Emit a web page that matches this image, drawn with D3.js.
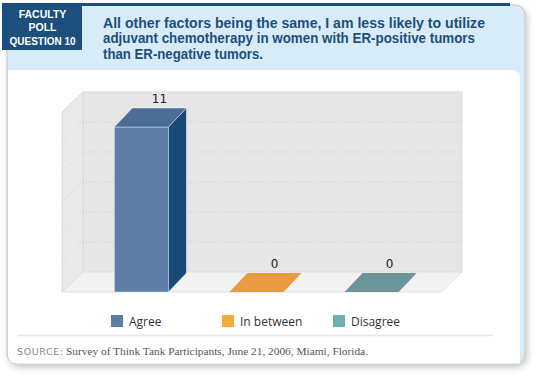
<!DOCTYPE html>
<html>
<head>
<meta charset="UTF-8">
<title>Faculty Poll Question 10</title>
<script src="https://d3js.org/d3.v7.min.js"></script>
<style>
  html, body { margin:0; padding:0; background:#fff; }
  svg { display:block; }
</style>
</head>
<body>
<div id="chart"></div>
<script>
// data
const categories = ['Agree', 'In between', 'Disagree'];
const counts = [11, 0, 0];
const yTicks = [0, 2, 4, 6, 8, 10, 12];
const titleLines = [
  'All other factors being the same, I am less likely to utilize',
  'adjuvant chemotherapy in women with ER-positive tumors',
  'than ER-negative tumors.'
];
const badgeLines = ['FACULTY', 'POLL', 'QUESTION 10'];
const sourceLabel = 'SOURCE:';
const sourceText = 'Survey of Think Tank Participants, June 21, 2006, Miami, Florida.';

// colours per series: front, top, side, legend
const palette = [
  {front:'#5f7ea6', top:'#4a6e96', side:'#174a78', legend:'#5f7ea6'},
  {front:'#e89b42', top:'#e89b42', side:'#c57d2c', legend:'#f9aa3c'},
  {front:'#6b9599', top:'#6b9599', side:'#4e777b', legend:'#6fafb4'}
];
const navy = '#1d4f7c';

const W = 540, H = 376;
const svg = d3.select('#chart').append('svg')
  .attr('width', W).attr('height', H);

// shadow
const defs = svg.append('defs');
const f = defs.append('filter').attr('id','shadow')
  .attr('x','-5%').attr('y','-5%').attr('width','112%').attr('height','115%');
f.append('feDropShadow').attr('dx',2).attr('dy',3).attr('stdDeviation',3)
  .attr('flood-color','#000').attr('flood-opacity',0.22);

// card
svg.append('rect')
  .attr('x',7).attr('y',5).attr('width',518).attr('height',359)
  .attr('rx',10)
  .attr('fill','#d8ebf8').attr('stroke','#c2c6ca').attr('stroke-width',1)
  .attr('filter','url(#shadow)');

// white panel, rounded top-right and bottom-left
const px0 = 8, px1 = 520, py0 = 70, py1 = 363.5, r = 9;
svg.append('path')
  .attr('d', `M${px0},${py0} L${px1-r},${py0} Q${px1},${py0} ${px1},${py0+r}
    L${px1},${py1} L${px0+r},${py1} Q${px0},${py1} ${px0},${py1-r} Z`)
  .attr('fill','#fff');

// top navy strip and badge
svg.append('rect').attr('x',7).attr('y',3).attr('width',503).attr('height',3).attr('fill',navy);
svg.append('rect').attr('x',2).attr('y',3).attr('width',80).attr('height',47).attr('fill',navy);

svg.append('g').selectAll('text')
  .data(badgeLines)
  .join('text')
  .attr('x',42.5)
  .attr('y',(d,i)=>17.5 + i*13.5)
  .attr('text-anchor','middle')
  .attr('fill','#fff')
  .attr('font-family','Liberation Sans, Arial, sans-serif')
  .attr('font-weight','bold')
  .attr('font-size',10.5)
  .attr('textLength',(d,i)=> i===2 ? 66 : null)
  .attr('lengthAdjust','spacingAndGlyphs')
  .text(d=>d);

const titleWidths = [382, 372, 160];
svg.append('g').selectAll('text')
  .data(titleLines)
  .join('text')
  .attr('x',103)
  .attr('y',(d,i)=>27.5 + i*15.5)
  .attr('fill',navy)
  .attr('font-family','Liberation Sans, Arial, sans-serif')
  .attr('font-weight','bold')
  .attr('font-size',15.5)
  .attr('textLength',(d,i)=>titleWidths[i])
  .attr('lengthAdjust','spacingAndGlyphs')
  .text(d=>d);

// 3D chart geometry
const depthX = 21, depthY = -20;    // wall depth
const barDX = 18, barDY = -19;      // bar depth
const xFront0 = 62, xFront1 = 441;

const y = d3.scaleLinear().domain([0, 12]).range([292, 112]);
const x = d3.scaleBand().domain(categories)
  .range([66, 447]).paddingInner(0.53).paddingOuter(0.42);

const chart = svg.append('g');
const pts = a => a.map(p=>p.join(',')).join(' ');

// back wall
chart.append('rect')
  .attr('x', xFront0 + depthX).attr('y', y(12) + depthY)
  .attr('width', xFront1 - xFront0).attr('height', y(0) - y(12))
  .attr('fill','#e6e6e6').attr('stroke','#dadada');
// left wall
chart.append('polygon')
  .attr('points', pts([[xFront0,y(12)],[xFront0+depthX,y(12)+depthY],[xFront0+depthX,y(0)+depthY],[xFront0,y(0)]]))
  .attr('fill','#e9e9e9').attr('stroke','#dadada');
// floor
chart.append('polygon')
  .attr('points', pts([[xFront0,y(0)],[xFront0+depthX,y(0)+depthY],[xFront1+depthX,y(0)+depthY],[xFront1,y(0)]]))
  .attr('fill','#f2f2f2').attr('stroke','#e0e0e0');

// grid lines
const inner = yTicks.filter(t=>t>0 && t<12);
chart.append('g').selectAll('line.gb')
  .data(inner).join('line')
  .attr('x1', xFront0+depthX).attr('x2', xFront1+depthX)
  .attr('y1', d=>y(d)+depthY).attr('y2', d=>y(d)+depthY)
  .attr('stroke','#cbcbcb').attr('stroke-dasharray','1,2');
chart.append('g').selectAll('line.gl')
  .data(inner).join('line')
  .attr('x1', xFront0).attr('x2', xFront0+depthX)
  .attr('y1', d=>y(d)).attr('y2', d=>y(d)+depthY)
  .attr('stroke','#cfcfcf').attr('stroke-dasharray','1,2');

// bars
const bars = chart.append('g').selectAll('g')
  .data(categories.map((c,i)=>({cat:c, v:counts[i], col:palette[i]})))
  .join('g');

bars.each(function(d){
  const g = d3.select(this);
  const x0 = x(d.cat), x1 = x0 + x.bandwidth();
  const yt = y(d.v), yb = y(0);
  if (d.v > 0) {
    g.append('rect')
      .attr('x',x0).attr('y',yt).attr('width',x1-x0).attr('height',yb-yt)
      .attr('fill',d.col.front).attr('stroke','#fff').attr('stroke-opacity',0.5).attr('stroke-width',0.8);
    g.append('polygon')
      .attr('points', pts([[x1,yt],[x1+barDX,yt+barDY],[x1+barDX,yb+barDY],[x1,yb]]))
      .attr('fill',d.col.side).attr('stroke','#fff').attr('stroke-opacity',0.5).attr('stroke-width',0.8);
  }
  g.append('polygon')
    .attr('points', pts([[x0,yt],[x0+barDX,yt+barDY],[x1+barDX,yt+barDY],[x1,yt]]))
    .attr('fill',d.col.top).attr('stroke','#fff').attr('stroke-opacity',d.v>0?0.5:0).attr('stroke-width',0.8);
  g.append('text')
    .attr('x', (x0+x1)/2 + barDX)
    .attr('y', yt + barDY - 5)
    .attr('text-anchor','middle')
    .attr('font-family','DejaVu Sans, sans-serif')
    .attr('font-size',12)
    .attr('fill','#222')
    .text(d.v);
});

// legend
const legend = svg.append('g').selectAll('g')
  .data(categories).join('g')
  .attr('transform',(d,i)=>`translate(${111 + i*111},315)`);
legend.append('rect').attr('width',12).attr('height',12)
  .attr('fill',(d,i)=>palette[i].legend);
legend.append('text').attr('x',18).attr('y',11)
  .attr('font-family','Open Sans, Liberation Sans, sans-serif')
  .attr('font-size',12).attr('fill','#333')
  .text(d=>d);

// separator + source
svg.append('line').attr('x1',17).attr('x2',493).attr('y1',335.5).attr('y2',335.5)
  .attr('stroke','#e6e6e6').attr('stroke-width',1.5);
svg.append('text').attr('x',17).attr('y',355)
  .attr('font-family','DejaVu Sans, sans-serif').attr('font-size',9.5)
  .attr('letter-spacing',0.6).attr('fill','#888')
  .text(sourceLabel);
svg.append('text').attr('x',66).attr('y',355)
  .attr('font-family','Liberation Serif, serif').attr('font-size',11.2)
  .attr('textLength',302).attr('lengthAdjust','spacingAndGlyphs')
  .attr('fill','#555')
  .text(sourceText);
</script>
</body>
</html>
